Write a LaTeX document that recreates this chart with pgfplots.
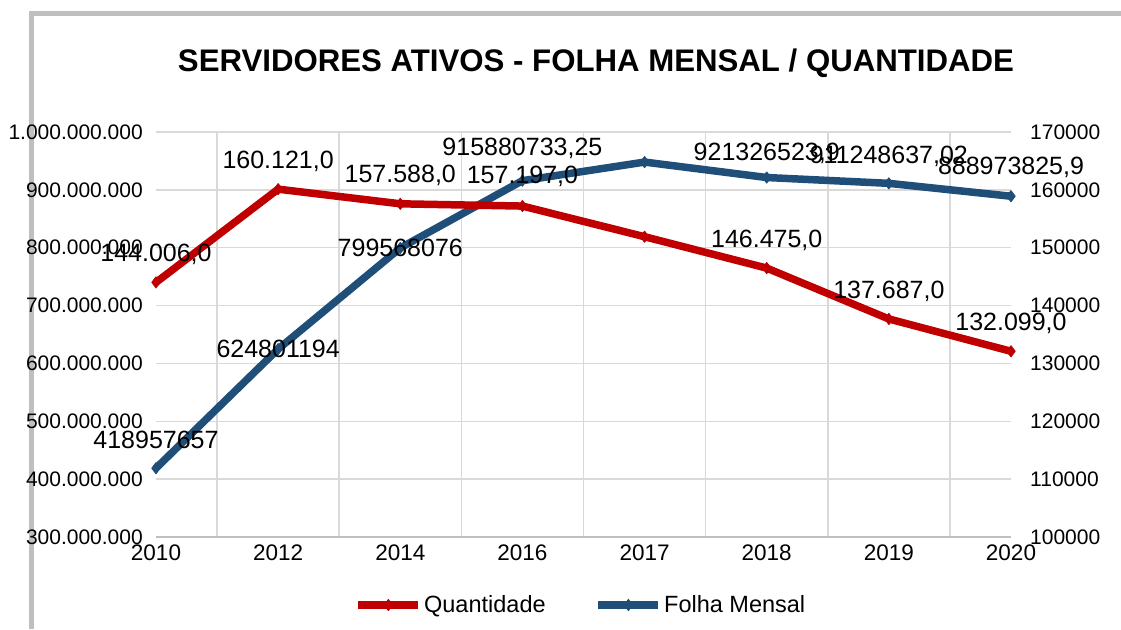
\documentclass[border=0pt]{standalone}
\usepackage{fontspec}
\setmainfont{Liberation Sans}
\usepackage{pgfplots}
\usepackage{pgfplotstable}
\pgfplotsset{compat=1.18}
\definecolor{cred}{HTML}{C00000}
\definecolor{cblue}{HTML}{1F4E79}
\definecolor{cgrid}{HTML}{D9D9D9}
\definecolor{cframe}{HTML}{BFBFBF}

\pgfplotstableread{
x y lbl dy
0 418957657 418957657 28
1 624801194 624801194 0
2 799568076 799568076 0
3 915880733.25 915880733,25 32
4 948000000 {} 0
5 921326523.9 921326523,9 24
6 911248637.02 911248637,02 27
7 888973825.9 888973825,9 29
}\folha

\pgfplotstableread{
x y lbl dy
0 144006 144.006,0 28
1 160121 160.121,0 28
2 157588 157.588,0 28
3 157197 157.197,0 30
4 151900 {} 0
5 146475 146.475,0 28
6 137687 137.687,0 28
7 132099 132.099,0 28
}\quant

\begin{document}
\begin{tikzpicture}[x=1pt,y=1pt]
\path[use as bounding box] (0,0) rectangle (1121,629);
\draw[cframe, line width=5pt] (31.5,0) -- (31.5,615.5) -- (1121,615.5);
\node[font=\fontsize{31.2}{34}\selectfont\bfseries] at (596,566) {SERVIDORES ATIVOS - FOLHA MENSAL / QUANTIDADE};

\begin{axis}[
  at={(156pt,92pt)}, anchor=south west, scale only axis,
  width=855pt, height=405pt,
  xmin=0, xmax=7, ymin=300000000, ymax=1000000000,
  clip=false,
  xtick={0,1,2,3,4,5,6,7},
  xticklabels={2010,2012,2014,2016,2017,2018,2019,2020},
  minor xtick={0.5,1.5,2.5,3.5,4.5,5.5,6.5},
  ytick={300000000,400000000,500000000,600000000,700000000,800000000,900000000,1000000000},
  yticklabels={300.000.000,400.000.000,500.000.000,600.000.000,700.000.000,800.000.000,900.000.000,1.000.000.000},
  scaled ticks=false,
  ymajorgrids, xminorgrids,
  grid style={cgrid, line width=1.5pt},
  minor grid style={cgrid, line width=1.5pt},
  axis x line*=bottom, axis y line*=left,
  x axis line style={cframe, line width=2pt, -},
  y axis line style={draw=none},
  major tick length=0pt, minor tick length=0pt,
  tick style={draw=none},
  yticklabel style={font=\fontsize{21}{24}\selectfont, inner sep=0pt, anchor=east, xshift=-13pt},
  xticklabel style={font=\fontsize{22.5}{26}\selectfont, inner sep=0pt, anchor=north, yshift=-8pt},
]
\addplot[cblue, line width=7.5pt, line join=round, mark=diamond*, mark size=5.5pt, mark options={solid, line width=1pt},
  nodes near coords, point meta=explicit symbolic,
  visualization depends on={\thisrow{dy}\as\dy},
  every node near coord/.append style={anchor=center, yshift=\dy pt, text=black, inner sep=0pt, font=\fontsize{25}{28}\selectfont}]
  table[x=x, y=y, meta=lbl]{\folha};
\end{axis}

\begin{axis}[
  at={(156pt,92pt)}, anchor=south west, scale only axis,
  width=855pt, height=405pt,
  xmin=0, xmax=7, ymin=100000, ymax=170000,
  clip=false,
  axis x line=none, axis y line*=right,
  y axis line style={draw=none},
  ytick={100000,110000,120000,130000,140000,150000,160000,170000},
  yticklabels={100000,110000,120000,130000,140000,150000,160000,170000},
  scaled ticks=false,
  major tick length=0pt, tick style={draw=none},
  yticklabel style={font=\fontsize{21}{24}\selectfont, inner sep=0pt, anchor=west, xshift=19pt},
  legend columns=2,
  legend style={at={(0.497,-0.168)}, anchor=center, draw=none, fill=none,
    font=\fontsize{23.5}{26}\selectfont,
    /tikz/every even column/.append style={column sep=47pt}},
  legend image code/.code={\draw[mark repeat=2, mark phase=2, #1] plot coordinates {(0pt,0pt) (30pt,0pt) (60pt,0pt)};},
]
\addplot[cred, line width=7.5pt, line join=round, mark=diamond*, mark size=5.5pt, mark options={solid, line width=1pt},
  nodes near coords, point meta=explicit symbolic,
  visualization depends on={\thisrow{dy}\as\dy},
  every node near coord/.append style={anchor=center, yshift=\dy pt, text=black, inner sep=0pt, font=\fontsize{25}{28}\selectfont}]
  table[x=x, y=y, meta=lbl]{\quant};
\addlegendentry{Quantidade}
\addlegendimage{cblue, line width=7.5pt, mark=diamond*, mark size=5.5pt, mark options={solid, line width=1pt}}
\addlegendentry{Folha Mensal}
\end{axis}
\end{tikzpicture}
\end{document}
